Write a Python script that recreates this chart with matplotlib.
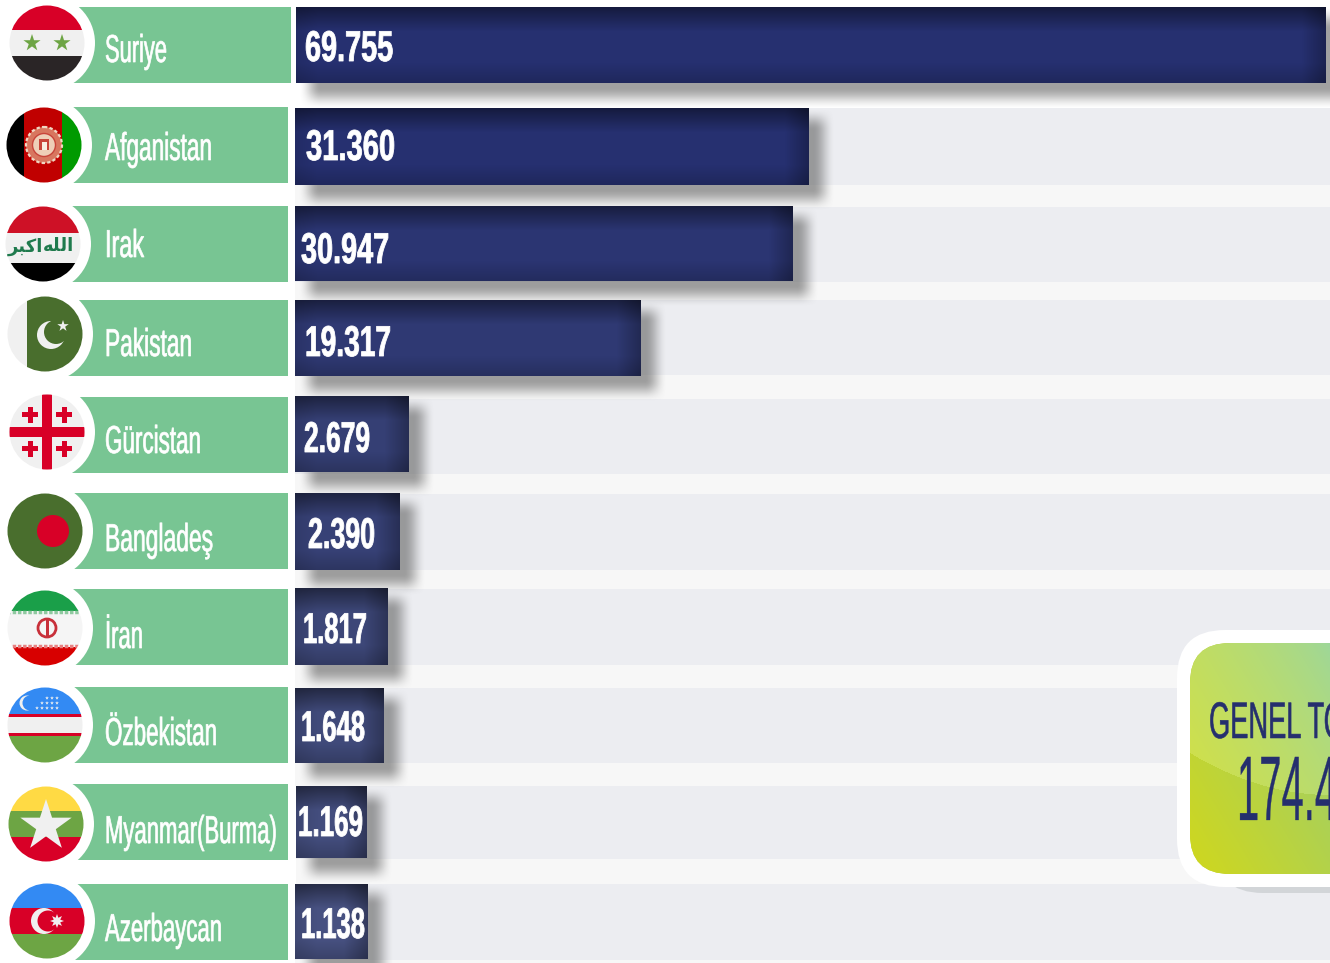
import numpy as np
import matplotlib
matplotlib.use('Agg')
import matplotlib.pyplot as plt
import matplotlib.patheffects as pe
from matplotlib.colors import to_rgb
from matplotlib.patches import Circle, Rectangle, Polygon, Ellipse, FancyBboxPatch
from matplotlib.transforms import Affine2D

plt.rcParams['font.family'] = ['Liberation Sans Narrow', 'Liberation Sans', 'DejaVu Sans']

# Data
countries = ['Suriye', 'Afganistan', 'Irak', 'Pakistan', 'Gürcistan', 'Bangladeş',
             'İran', 'Özbekistan', 'Myanmar(Burma)', 'Azerbaycan']
value_labels = ['69.755', '31.360', '30.947', '19.317', '2.679', '2.390',
                '1.817', '1.648', '1.169', '1.138']
# the bars are not to scale in the original, so lengths are read off directly
bar_len = [1030, 514, 498, 346, 114, 105, 93, 89, 71, 73]
total_title = 'GENEL TO'
total_value = '174.4'

# Layout, all in pixels
HEIGHT = 963
green_top = [7, 107, 206, 300, 397, 493, 589, 687, 784, 884]
green_end = [291, 288, 288, 288, 288, 288, 288, 288, 288, 288]
bar_left = [296, 295, 295, 295, 295, 295, 295, 295, 296, 295]
bar_top = [7, 108, 206, 300, 396, 493, 588, 688, 786, 884]
bar_h = [76, 77, 75, 76, 76, 77, 77, 75, 72, 75]
track_top = [None, 108, 207, 300, 399, 494, 589, 688, 786, 884]
track_end = [None, 185, 282, 375, 474, 570, 665, 763, 859, 960]
flag_x = [47, 44, 43, 45, 47, 45, 45, 45, 46, 47]
flag_y = [43, 145, 244, 334, 432, 531, 628, 725, 824, 921]
name_base = [62, 160, 257, 356, 453, 551, 648, 745, 843, 941]
name_w = [62, 107, 39, 87, 96, 108, 38, 112, 172, 117]
val_x = [305, 306, 301, 305, 304, 308, 303, 301, 298, 301]
val_base = [61, 160, 263, 356, 452, 548, 643, 741, 836, 938]
val_w = [88, 89, 88, 86, 66, 67, 64, 64, 65, 64]
bar_colors = ['#263070', '#263070', '#2b3572', '#2f3973', '#353f74', '#374176',
              '#3d4778', '#404a7a', '#434d7d', '#475181']

GREEN = '#78c593'
NAVY = '#252f6e'
R = 37.5

fig = plt.figure(figsize=(13.3, 9.63), dpi=100)
ax = fig.add_axes([0, 0, 1, 1])
ax.set_axis_off()


class Tall(pe.AbstractPathEffect):
    # makes a text taller about its baseline, no really condensed font is installed
    def __init__(self, y0, sy, color, stroke):
        self.y0 = y0
        self.sy = sy
        self.color = color
        self.stroke = stroke

    def draw_path(self, renderer, gc, tpath, affine, rgbFace=None):
        t = affine + Affine2D().translate(0, -self.y0).scale(1, self.sy).translate(0, self.y0)
        gc0 = renderer.new_gc()
        gc0.copy_properties(gc)
        gc0.set_linewidth(self.stroke)
        gc0.set_foreground(self.color)
        renderer.draw_path(gc0, tpath, t, rgbFace)
        gc0.restore()


def fit_text(x, y, s, width, size, color='white', weight='normal', stroke=0.5, zorder=10):
    t = ax.text(x, y, s, fontsize=size, color=color, fontweight=weight, ha='left',
                va='baseline', zorder=zorder)
    natural = t.get_window_extent(fig.canvas.get_renderer()).width
    t.set_fontsize(size * width / natural)
    t.set_path_effects([Tall(HEIGHT - y, natural / width, color, stroke)])
    return t


def star_points(cx, cy, r, n=5, inner=0.382):
    a = -np.pi / 2 + np.arange(2 * n) * np.pi / n
    rr = np.where(np.arange(2 * n) % 2 == 0, r, r * inner)
    return np.column_stack([cx + rr * np.cos(a), cy + rr * np.sin(a)])


def soft(n, edge):
    # ramp up and down at both ends
    i = np.arange(n) + 0.5
    s = np.clip(np.minimum(i, n - i) / edge, 0, 1)
    return s * s * (3 - 2 * s)


def shadow(x0, x1, y0, y1, zorder=2):
    sx = soft(int(x1 - x0), 22)
    sy = soft(int(y1 - y0), 22)
    img = np.zeros((len(sy), len(sx), 4))
    img[..., :3] = 0.33
    img[..., 3] = 0.55 * np.outer(sy, sx)
    ax.imshow(img, extent=(x0, x1, y1, y0), aspect='auto', zorder=zorder, interpolation='bilinear')


def bar_image(w, h, color):
    x = np.arange(w) + 0.5
    y = np.arange(h)[:, None] + 0.5
    top = np.clip(y / 24, 0, 1)
    bottom = np.clip((h - y) / 20, 0, 1)
    right = np.clip((w - x) / 24, 0, 1)[None, :]
    left = np.clip(x / 22, 0, 1)[None, :]
    shade = (0.55 + 0.45 * top) * (0.82 + 0.18 * bottom) * (0.72 + 0.28 * right) * (0.9 + 0.1 * left)
    return shade[..., None] * np.array(to_rgb(color))


def add(p, clip):
    ax.add_patch(p)
    p.set_clip_path(clip)
    return p


def stripes(clip, rows):
    for y0, y1, c in rows:
        add(Rectangle((0, y0), 100, y1 - y0, fc=c, ec='none', zorder=7), clip)


def draw_flag(name, cx, cy, clip):
    t = cy - 38
    if name == 'Suriye':
        stripes(clip, [(t, t + 25, '#d80027'), (t + 25, t + 51, '#f0f0f0'), (t + 51, t + 77, '#2a2526')])
        for dx in (-15, 15):
            add(Polygon(star_points(cx + dx, cy, 9), fc='#6da544', ec='none', zorder=8), clip)
    elif name == 'Afganistan':
        add(Rectangle((cx - 38, t), 18, 76, fc='#000000', ec='none', zorder=7), clip)
        add(Rectangle((cx - 20, t), 38, 76, fc='#c00000', ec='none', zorder=7), clip)
        add(Rectangle((cx + 18, t), 22, 76, fc='#009a00', ec='none', zorder=7), clip)
        add(Circle((cx, cy), 18, fc='#d8765f', ec='#f0d8c4', lw=1.6, ls=(0, (1.5, 1)), zorder=8), clip)
        add(Circle((cx, cy), 11.5, fc='#eecfb8', ec='#c8443a', lw=1, zorder=8), clip)
        add(Rectangle((cx - 5, cy - 6), 10, 11, fc='#c8443a', ec='none', zorder=9), clip)
        add(Rectangle((cx - 2.5, cy - 3), 5, 8, fc='#f8eee2', ec='none', zorder=9), clip)
    elif name == 'Irak':
        stripes(clip, [(t, t + 27, '#ce1126'), (t + 27, t + 57, '#f0f0f0'), (t + 57, t + 77, '#000000')])
        ax.text(cx - 18, cy + 3, 'ﺮﺒﻛﺍ', color='#1f7a4d', fontsize=13, family='DejaVu Sans',
                fontweight='bold', ha='center', va='center', zorder=9)
        ax.text(cx + 16, cy + 2, 'ﻪﻠﻟﺍ', color='#1f7a4d', fontsize=13, family='DejaVu Sans',
                fontweight='bold', ha='center', va='center', zorder=9)
    elif name == 'Pakistan':
        add(Rectangle((cx - 38, t), 20, 76, fc='#f0f0f0', ec='none', zorder=7), clip)
        add(Rectangle((cx - 18, t), 60, 76, fc='#496e2d', ec='none', zorder=7), clip)
        add(Circle((cx + 6, cy + 1), 14, fc='#f0f0f0', ec='none', zorder=8), clip)
        add(Circle((cx + 11, cy - 2), 12, fc='#496e2d', ec='none', zorder=8), clip)
        add(Polygon(star_points(cx + 18, cy - 8, 6), fc='#f0f0f0', ec='none', zorder=9), clip)
    elif name == 'Gürcistan':
        stripes(clip, [(t, t + 76, '#f0f0f0'), (cy - 5, cy + 5, '#d80027')])
        add(Rectangle((cx - 5, t), 10, 76, fc='#d80027', ec='none', zorder=8), clip)
        for dx in (-17, 17):
            for dy in (-17, 17):
                add(Rectangle((cx + dx - 8, cy + dy - 2.5), 16, 5, fc='#d80027', ec='none', zorder=8), clip)
                add(Rectangle((cx + dx - 2.5, cy + dy - 8), 5, 16, fc='#d80027', ec='none', zorder=8), clip)
    elif name == 'Bangladeş':
        stripes(clip, [(t, t + 76, '#496e2d')])
        add(Circle((cx + 8, cy), 16, fc='#d80027', ec='none', zorder=8), clip)
    elif name == 'İran':
        stripes(clip, [(t, t + 21, '#1a9f49'), (t + 21, t + 57, '#f5f5f5'), (t + 57, t + 77, '#d80000')])
        ax.plot([cx - 38, cx + 38], [t + 22, t + 22], color='#8fc9a0', lw=2.5, ls=(0, (1, 0.5)), zorder=8, clip_path=clip)
        ax.plot([cx - 38, cx + 38], [t + 56, t + 56], color='#e88080', lw=2.5, ls=(0, (1, 0.5)), zorder=8, clip_path=clip)
        add(Ellipse((cx + 2, cy), 18, 18, fc='none', ec='#c8303a', lw=2, zorder=8), clip)
        add(Rectangle((cx + 0.5, cy - 9), 3, 18, fc='#c8303a', ec='none', zorder=8), clip)
    elif name == 'Özbekistan':
        stripes(clip, [(t, t + 27, '#338af3'), (t + 27, t + 30, '#d80027'), (t + 30, t + 46, '#f0f0f0'),
                       (t + 46, t + 49, '#d80027'), (t + 49, t + 77, '#6da544')])
        add(Circle((cx - 18, cy - 22), 7.5, fc='#f0f0f0', ec='none', zorder=8), clip)
        add(Circle((cx - 15, cy - 22), 7.5, fc='#338af3', ec='none', zorder=8), clip)
        for k, n in enumerate([3, 4, 5]):
            for j in range(n):
                ax.add_patch(Polygon(star_points(cx + 12 - j * 5, cy - 27 + k * 5, 2), fc='#f0f0f0', ec='none', zorder=8))
    elif name == 'Myanmar(Burma)':
        stripes(clip, [(t, t + 25, '#ffda44'), (t + 25, t + 51, '#6da544'), (t + 51, t + 77, '#d80027')])
        add(Polygon(star_points(cx, cy + 2, 27), fc='#f0f0f0', ec='none', zorder=8), clip)
    elif name == 'Azerbaycan':
        stripes(clip, [(t, t + 25, '#338af3'), (t + 25, t + 51, '#d80027'), (t + 51, t + 77, '#6da544')])
        add(Circle((cx - 3, cy), 13, fc='#f0f0f0', ec='none', zorder=8), clip)
        add(Circle((cx + 1, cy), 10.5, fc='#d80027', ec='none', zorder=8), clip)
        add(Polygon(star_points(cx + 10, cy, 7, n=8, inner=0.5), fc='#f0f0f0', ec='none', zorder=9), clip)


# Tracks behind the bars
for i in range(1, len(countries)):
    ax.barh(track_top[i], 1330 - bar_left[i], left=bar_left[i], height=track_end[i] - track_top[i],
            align='edge', color='#ecedf1', zorder=1)
    nxt = track_top[i + 1] if i + 1 < len(countries) else HEIGHT
    ax.barh(track_end[i], 1330 - bar_left[i], left=bar_left[i], height=nxt - track_end[i],
            align='edge', color='#f7f7f7', zorder=1)

# Bars, names and flags
for i, name in enumerate(countries):
    x0, w, y0, h = bar_left[i], bar_len[i], bar_top[i], bar_h[i]
    shadow(x0 + 3, x0 + w + 26, y0, y0 + h + 26)
    bar = ax.barh(y0, w, left=x0, height=h, align='edge', color=bar_colors[i], zorder=3)[0]
    im = ax.imshow(bar_image(w, h, bar_colors[i]), extent=(x0, x0 + w, y0 + h, y0), aspect='auto', zorder=4)
    im.set_clip_path(bar)

    ax.add_patch(Rectangle((60, green_top[i]), green_end[i] - 60, 76, fc=GREEN, ec='none', zorder=5))
    ax.add_patch(Circle((flag_x[i], flag_y[i]), 48, fc='white', ec='none', zorder=6))
    clip = Circle((flag_x[i], flag_y[i]), R, transform=ax.transData)
    draw_flag(name, flag_x[i], flag_y[i], clip)

    fit_text(105, name_base[i], name, name_w[i], 28)
    fit_text(val_x[i], val_base[i], value_labels[i], val_w[i], 31, weight='bold', stroke=0.6)

# Total panel, runs off the right edge in the original too
ax.add_patch(FancyBboxPatch((1215, 650), 300, 243, boxstyle='round,pad=0,rounding_size=48',
                            fc='#d2d5d8', ec='none', zorder=11))
ax.add_patch(FancyBboxPatch((1177, 630), 300, 257, boxstyle='round,pad=0,rounding_size=48',
                            fc='white', ec='none', zorder=12))
panel = FancyBboxPatch((1190, 643), 300, 231, boxstyle='round,pad=0,rounding_size=40',
                       fc='#bdd436', ec='none', zorder=13)
ax.add_patch(panel)

px = np.arange(1190, 1330) + 0.5
py = np.arange(643, 874)[:, None] + 0.5
mix = np.clip(((1330 - px) / 140 * 0.5 + (py - 643) / 231 * 0.5), 0, 1)[..., None]
low = np.array(to_rgb('#8fd18e'))
high = np.array(to_rgb('#d6de1e'))
grad = low + (high - low) * mix ** 0.75
above = py < 795 - 42 * ((1330 - px) / 140) ** 2
grad = np.where(above[..., None], grad + (1 - grad) * 0.12, grad * 0.97)
pim = ax.imshow(grad, extent=(1190, 1330, 874, 643), aspect='auto', zorder=14)
pim.set_clip_path(panel)

fit_text(1209, 738, total_title, 136, 37, color=NAVY, stroke=0.4, zorder=15)
fit_text(1237, 820, total_value, 100, 66, color=NAVY, stroke=0.2, zorder=15)

ax.set_xlim(0, 1330)
ax.set_ylim(HEIGHT, 0)
fig.savefig('out.png', dpi=100)
